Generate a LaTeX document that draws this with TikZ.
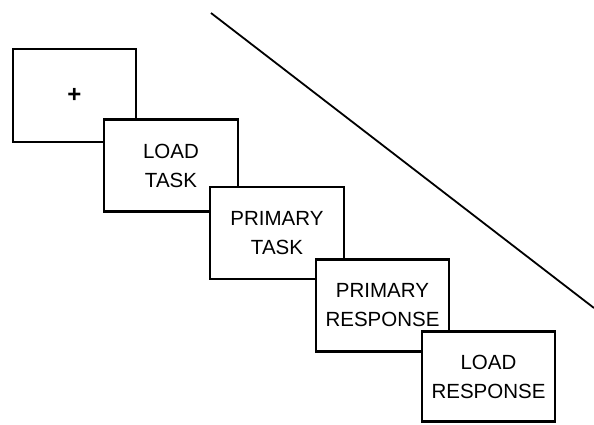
\documentclass[tikz,border=0pt]{standalone}
\usepackage{fontspec}
\setmainfont{Liberation Sans}
\begin{document}
\begin{tikzpicture}[x=1pt,y=-1pt,
  screen/.style={draw=black,line width=2.6pt,fill=white,minimum width=133pt,minimum height=92pt,
    inner sep=0pt,align=center,font=\fontsize{20.5}{29}\selectfont},
  timeline/.style={draw=black,line width=1.8pt}]
\useasboundingbox (0,0) rectangle (594,424);
% sequence of trial screens, each one overlapping the previous
\node[screen,minimum width=123pt,minimum height=93pt,font=\fontsize{24}{29}\selectfont\bfseries] (fix) at (74.5,95.5) {+};
\node[screen,minimum width=134pt] (load) at (171,165.5) {LOAD\\TASK};
\node[screen,minimum width=134pt] (prim) at (277,233) {PRIMARY\\TASK};
\node[screen] (presp) at (382.5,305.5) {PRIMARY\\RESPONSE};
\node[screen,minimum height=90pt] (lresp) at (488.5,376.5) {LOAD\\RESPONSE};
% time axis
\coordinate (t0) at (211,13);
\coordinate (t1) at (594,308);
\draw[timeline] (t0) -- (t1);
\end{tikzpicture}
\end{document}
